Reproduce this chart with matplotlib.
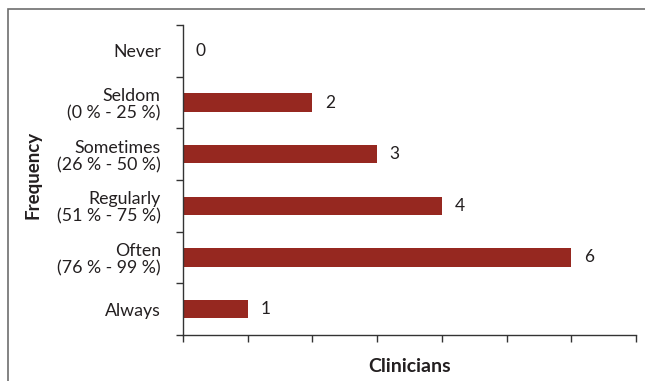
import numpy as np
import matplotlib.pyplot as plt
from matplotlib.patches import Rectangle

categories = ["Never", "Seldom\n(0 % - 25 %)", "Sometimes\n(26 % - 50 %)",
              "Regularly\n(51 % - 75 %)", "Often\n(76 % - 99 %)", "Always"]
clinicians = [0, 2, 3, 4, 6, 1]
x_ticks = [0, 1, 2, 3, 4, 5, 6, 7]

bar_color = '#962820'
text_color = '#231f20'

plt.rcParams['font.family'] = ['Lato', 'DejaVu Sans']

fig = plt.figure(figsize=(6.45, 3.81), dpi=100)
ax = fig.add_axes([183/645, 1 - 335/381, (636 - 183)/645, (335 - 25)/381])

# grey frame round the whole chart, cut at right and bottom like the source
fig.patches.append(Rectangle((8/645, -0.1), 1.2, 1 - 9/381 + 0.1,
                             transform=fig.transFigure, fill=False,
                             edgecolor='#6e6e6e', lw=1.2))

pos = np.arange(len(categories))
ax.barh(pos, clinicians, height=0.35, color=bar_color)

for p, v in zip(pos, clinicians):
    ax.annotate(str(v), (v, p), xytext=(9, 0), textcoords='offset points',
                ha='left', va='center', fontsize=12.5, color=text_color)

ax.set_xlim(0, 7)
ax.set_ylim(len(categories) - 0.5, -0.5)
ax.set_xticks(x_ticks)
ax.set_xticklabels([])
ax.tick_params(axis='x', direction='out', length=5, width=1, color='#333333')

# major ticks at category boundaries, labels on minor ticks at centres
ax.set_yticks(np.arange(-0.5, len(categories)))
ax.set_yticklabels([])
ax.set_yticks(pos, minor=True)
ax.set_yticklabels(categories, minor=True, fontsize=12.8, color=text_color,
                   linespacing=1.1)
ax.tick_params(axis='y', which='major', direction='out', length=5, width=1,
               color='#333333')
ax.tick_params(axis='y', which='minor', length=0, pad=16)

for s in ['top', 'right']:
    ax.spines[s].set_visible(False)
for s in ['left', 'bottom']:
    ax.spines[s].set_color('#333333')
    ax.spines[s].set_linewidth(1)

ax.set_xlabel('Clinicians', fontsize=14, fontweight='bold', color=text_color,
              labelpad=8)
fig.text(33/645, 1 - 175/381, 'Frequency', rotation=90, ha='center',
         va='center', fontsize=13.5, fontweight='bold', color=text_color)

fig.savefig('out.png', dpi=100)
